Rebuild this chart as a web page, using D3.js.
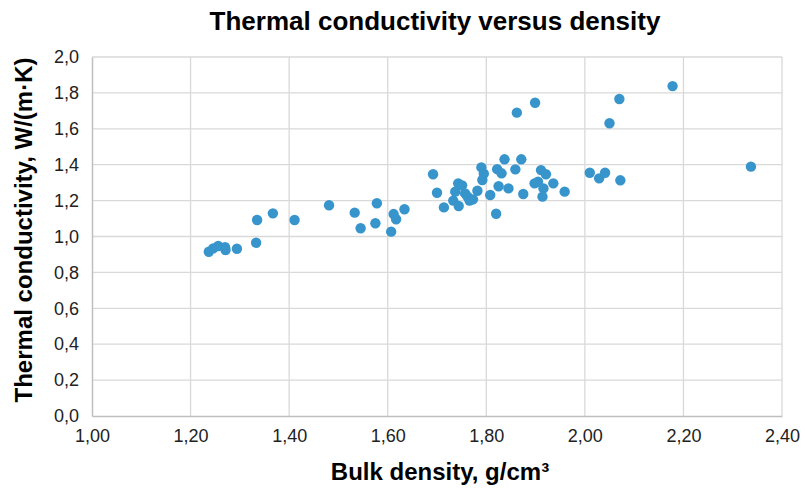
<!DOCTYPE html>
<html><head><meta charset="utf-8">
<script src="https://cdn.jsdelivr.net/npm/d3@7"></script>
<style>body{margin:0;background:#fff;} svg{display:block;font-family:"Liberation Sans",Arial,sans-serif;}</style>
</head><body><svg id="c" width="805" height="491"></svg>
<script>
const density = [1.237,1.246,1.256,1.270,1.271,1.294,1.333,1.335,1.367,1.411,1.481,1.533,1.545,1.578,1.575,1.607,1.612,1.617,1.634,1.692,1.700,1.714,1.733,1.737,1.743,1.751,1.744,1.757,1.762,1.766,1.773,1.782,1.790,1.795,1.792,1.808,1.820,1.822,1.831,1.825,1.837,1.845,1.859,1.871,1.875,1.862,1.899,1.898,1.905,1.911,1.921,1.916,1.914,1.936,1.959,2.010,2.029,2.041,2.050,2.070,2.072,2.178,2.337];
const conductivity = [0.915,0.934,0.947,0.940,0.925,0.932,0.965,1.092,1.129,1.092,1.174,1.133,1.046,1.185,1.074,1.027,1.125,1.096,1.152,1.347,1.244,1.162,1.200,1.250,1.296,1.285,1.170,1.240,1.222,1.200,1.207,1.255,1.385,1.350,1.315,1.231,1.127,1.375,1.352,1.280,1.430,1.268,1.374,1.430,1.237,1.690,1.745,1.296,1.305,1.370,1.347,1.268,1.222,1.296,1.250,1.355,1.324,1.355,1.631,1.766,1.313,1.838,1.389];
const xTicks = [1.0,1.2,1.4,1.6,1.8,2.0,2.2,2.4];
const yTicks = [0.0,0.2,0.4,0.6,0.8,1.0,1.2,1.4,1.6,1.8,2.0];
const title = "Thermal conductivity versus density";
const xTitle = "Bulk density, g/cm³";
const yTitle = "Thermal conductivity, W/(m·K)";

const svg = d3.select("#c");
const L=92, R=782, T=57, B=416;
const x = d3.scaleLinear().domain([1.0,2.4]).range([L,R]);
const y = d3.scaleLinear().domain([0,2.0]).range([B,T]);
const fmt = d => d.toFixed(2).replace(".", ",");
const fmtY = d => d.toFixed(1).replace(".", ",");

// gridlines
svg.append("g").selectAll("line").data(yTicks.slice(1)).join("line")
  .attr("x1",L).attr("x2",R).attr("y1",d=>y(d)).attr("y2",d=>y(d))
  .attr("stroke","#d9d9d9").attr("stroke-width",1.3);
svg.append("g").selectAll("line").data(xTicks.slice(1)).join("line")
  .attr("y1",T).attr("y2",B).attr("x1",d=>x(d)).attr("x2",d=>x(d))
  .attr("stroke","#d9d9d9").attr("stroke-width",1.3);

// axes
const xa = svg.append("g").attr("transform",`translate(0,${B})`)
  .call(d3.axisBottom(x).tickValues(xTicks).tickFormat(fmt).tickSize(0).tickPadding(13));
const ya = svg.append("g").attr("transform",`translate(${L},0)`)
  .call(d3.axisLeft(y).tickValues(yTicks).tickFormat(fmtY).tickSize(0).tickPadding(13));
[xa,ya].forEach(a=>{
  a.select(".domain").attr("stroke","#bfbfbf").attr("stroke-width",1.5);
  a.selectAll("text").attr("font-size",18).attr("fill","#222").attr("font-family","'Liberation Sans',Arial,sans-serif");
});

// points
svg.append("g").selectAll("circle").data(density.map((d,i)=>[d,conductivity[i]])).join("circle")
  .attr("cx",d=>x(d[0])).attr("cy",d=>y(d[1])).attr("r",5.2)
  .attr("fill","#3795cc");

// titles
svg.append("text").attr("x",435).attr("y",30).attr("text-anchor","middle")
  .attr("font-size",26).attr("font-weight","bold").attr("fill","#000").text(title);
svg.append("text").attr("x",440).attr("y",480).attr("text-anchor","middle")
  .attr("font-size",24).attr("font-weight","bold").attr("fill","#000").text(xTitle);
svg.append("text").attr("transform",`translate(32,230) rotate(-90)`).attr("text-anchor","middle")
  .attr("font-size",24).attr("font-weight","bold").attr("fill","#000").text(yTitle);
</script></body></html>
